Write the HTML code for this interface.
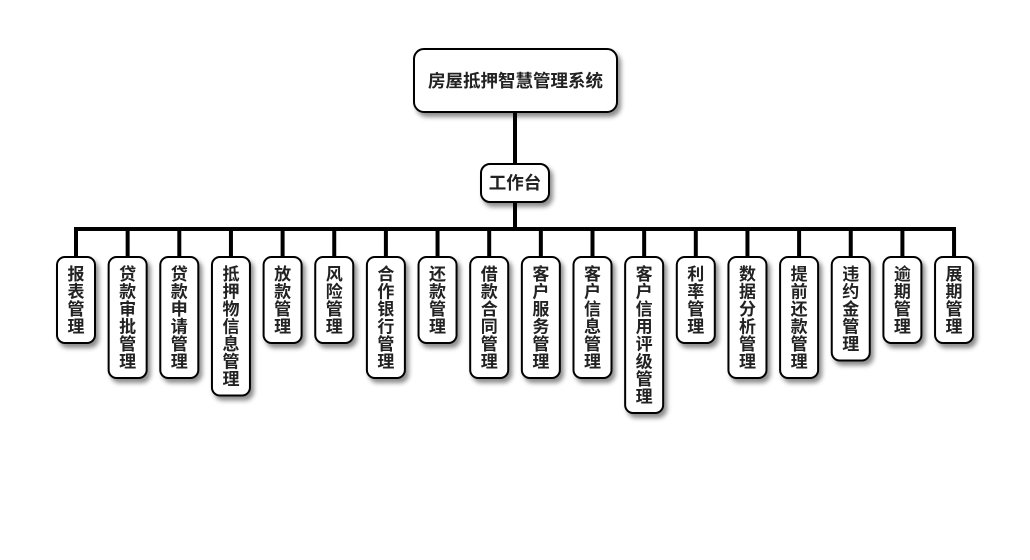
<!DOCTYPE html>
<html>
<head>
<meta charset="utf-8">
<style>
html,body{margin:0;padding:0;background:#fff;}
svg{display:block;}
text{font-family:"Liberation Sans","Noto Sans CJK SC",sans-serif;font-weight:bold;fill:#222;}
</style>
</head>
<body>
<svg width="1030" height="560" viewBox="0 0 1030 560" xmlns="http://www.w3.org/2000/svg">
<defs>
<filter id="sh" x="-50%" y="-50%" width="200%" height="200%">
<feDropShadow dx="3" dy="4" stdDeviation="2.5" flood-color="#000" flood-opacity="0.45"/>
</filter>
</defs>
<g stroke="#000" stroke-width="4" fill="none">
<line x1="515" y1="112" x2="515" y2="229"/>
<line x1="74" y1="229" x2="956" y2="229"/>
<line x1="76" y1="229" x2="76" y2="257"/>
<line x1="127.65" y1="229" x2="127.65" y2="257"/>
<line x1="179.3" y1="229" x2="179.3" y2="257"/>
<line x1="230.95" y1="229" x2="230.95" y2="257"/>
<line x1="282.6" y1="229" x2="282.6" y2="257"/>
<line x1="334.25" y1="229" x2="334.25" y2="257"/>
<line x1="385.9" y1="229" x2="385.9" y2="257"/>
<line x1="437.55" y1="229" x2="437.55" y2="257"/>
<line x1="489.2" y1="229" x2="489.2" y2="257"/>
<line x1="540.85" y1="229" x2="540.85" y2="257"/>
<line x1="592.5" y1="229" x2="592.5" y2="257"/>
<line x1="644.15" y1="229" x2="644.15" y2="257"/>
<line x1="695.8" y1="229" x2="695.8" y2="257"/>
<line x1="747.45" y1="229" x2="747.45" y2="257"/>
<line x1="799.1" y1="229" x2="799.1" y2="257"/>
<line x1="850.75" y1="229" x2="850.75" y2="257"/>
<line x1="902.4" y1="229" x2="902.4" y2="257"/>
<line x1="954.05" y1="229" x2="954.05" y2="257"/>
</g>
<g fill="#fff" stroke="#000" stroke-width="2" filter="url(#sh)">
<rect x="414" y="49" width="203" height="63" rx="10"/>
<rect x="481" y="164" width="68" height="38" rx="9"/>
<rect x="57" y="257" width="38" height="86" rx="8"/>
<rect x="108.65" y="257" width="38" height="121" rx="8"/>
<rect x="160.3" y="257" width="38" height="121" rx="8"/>
<rect x="211.95" y="257" width="38" height="138.5" rx="8"/>
<rect x="263.6" y="257" width="38" height="86" rx="8"/>
<rect x="315.25" y="257" width="38" height="86" rx="8"/>
<rect x="366.9" y="257" width="38" height="121" rx="8"/>
<rect x="418.55" y="257" width="38" height="86" rx="8"/>
<rect x="470.2" y="257" width="38" height="121" rx="8"/>
<rect x="521.85" y="257" width="38" height="121" rx="8"/>
<rect x="573.5" y="257" width="38" height="121" rx="8"/>
<rect x="625.15" y="257" width="38" height="156" rx="8"/>
<rect x="676.8" y="257" width="38" height="86" rx="8"/>
<rect x="728.45" y="257" width="38" height="121" rx="8"/>
<rect x="780.1" y="257" width="38" height="121" rx="8"/>
<rect x="831.75" y="257" width="38" height="103.5" rx="8"/>
<rect x="883.4" y="257" width="38" height="86" rx="8"/>
<rect x="935.05" y="257" width="38" height="86" rx="8"/>
</g>
<g font-size="17.5" text-anchor="middle" dominant-baseline="central">
<text x="515.5" y="81">房屋抵押智慧管理系统</text>
<text x="515" y="183">工作台</text>
</g>
<g font-size="17" text-anchor="middle" dominant-baseline="central">
<text><tspan x="76" y="274">报</tspan><tspan x="76" y="291.5">表</tspan><tspan x="76" y="309">管</tspan><tspan x="76" y="326.5">理</tspan></text>
<text><tspan x="127.65" y="274">贷</tspan><tspan x="127.65" y="291.5">款</tspan><tspan x="127.65" y="309">审</tspan><tspan x="127.65" y="326.5">批</tspan><tspan x="127.65" y="344">管</tspan><tspan x="127.65" y="361.5">理</tspan></text>
<text><tspan x="179.3" y="274">贷</tspan><tspan x="179.3" y="291.5">款</tspan><tspan x="179.3" y="309">申</tspan><tspan x="179.3" y="326.5">请</tspan><tspan x="179.3" y="344">管</tspan><tspan x="179.3" y="361.5">理</tspan></text>
<text><tspan x="230.95" y="274">抵</tspan><tspan x="230.95" y="291.5">押</tspan><tspan x="230.95" y="309">物</tspan><tspan x="230.95" y="326.5">信</tspan><tspan x="230.95" y="344">息</tspan><tspan x="230.95" y="361.5">管</tspan><tspan x="230.95" y="379">理</tspan></text>
<text><tspan x="282.6" y="274">放</tspan><tspan x="282.6" y="291.5">款</tspan><tspan x="282.6" y="309">管</tspan><tspan x="282.6" y="326.5">理</tspan></text>
<text><tspan x="334.25" y="274">风</tspan><tspan x="334.25" y="291.5">险</tspan><tspan x="334.25" y="309">管</tspan><tspan x="334.25" y="326.5">理</tspan></text>
<text><tspan x="385.9" y="274">合</tspan><tspan x="385.9" y="291.5">作</tspan><tspan x="385.9" y="309">银</tspan><tspan x="385.9" y="326.5">行</tspan><tspan x="385.9" y="344">管</tspan><tspan x="385.9" y="361.5">理</tspan></text>
<text><tspan x="437.55" y="274">还</tspan><tspan x="437.55" y="291.5">款</tspan><tspan x="437.55" y="309">管</tspan><tspan x="437.55" y="326.5">理</tspan></text>
<text><tspan x="489.2" y="274">借</tspan><tspan x="489.2" y="291.5">款</tspan><tspan x="489.2" y="309">合</tspan><tspan x="489.2" y="326.5">同</tspan><tspan x="489.2" y="344">管</tspan><tspan x="489.2" y="361.5">理</tspan></text>
<text><tspan x="540.85" y="274">客</tspan><tspan x="540.85" y="291.5">户</tspan><tspan x="540.85" y="309">服</tspan><tspan x="540.85" y="326.5">务</tspan><tspan x="540.85" y="344">管</tspan><tspan x="540.85" y="361.5">理</tspan></text>
<text><tspan x="592.5" y="274">客</tspan><tspan x="592.5" y="291.5">户</tspan><tspan x="592.5" y="309">信</tspan><tspan x="592.5" y="326.5">息</tspan><tspan x="592.5" y="344">管</tspan><tspan x="592.5" y="361.5">理</tspan></text>
<text><tspan x="644.15" y="274">客</tspan><tspan x="644.15" y="291.5">户</tspan><tspan x="644.15" y="309">信</tspan><tspan x="644.15" y="326.5">用</tspan><tspan x="644.15" y="344">评</tspan><tspan x="644.15" y="361.5">级</tspan><tspan x="644.15" y="379">管</tspan><tspan x="644.15" y="396.5">理</tspan></text>
<text><tspan x="695.8" y="274">利</tspan><tspan x="695.8" y="291.5">率</tspan><tspan x="695.8" y="309">管</tspan><tspan x="695.8" y="326.5">理</tspan></text>
<text><tspan x="747.45" y="274">数</tspan><tspan x="747.45" y="291.5">据</tspan><tspan x="747.45" y="309">分</tspan><tspan x="747.45" y="326.5">析</tspan><tspan x="747.45" y="344">管</tspan><tspan x="747.45" y="361.5">理</tspan></text>
<text><tspan x="799.1" y="274">提</tspan><tspan x="799.1" y="291.5">前</tspan><tspan x="799.1" y="309">还</tspan><tspan x="799.1" y="326.5">款</tspan><tspan x="799.1" y="344">管</tspan><tspan x="799.1" y="361.5">理</tspan></text>
<text><tspan x="850.75" y="274">违</tspan><tspan x="850.75" y="291.5">约</tspan><tspan x="850.75" y="309">金</tspan><tspan x="850.75" y="326.5">管</tspan><tspan x="850.75" y="344">理</tspan></text>
<text><tspan x="902.4" y="274">逾</tspan><tspan x="902.4" y="291.5">期</tspan><tspan x="902.4" y="309">管</tspan><tspan x="902.4" y="326.5">理</tspan></text>
<text><tspan x="954.05" y="274">展</tspan><tspan x="954.05" y="291.5">期</tspan><tspan x="954.05" y="309">管</tspan><tspan x="954.05" y="326.5">理</tspan></text>
</g>
</svg>
</body>
</html>
